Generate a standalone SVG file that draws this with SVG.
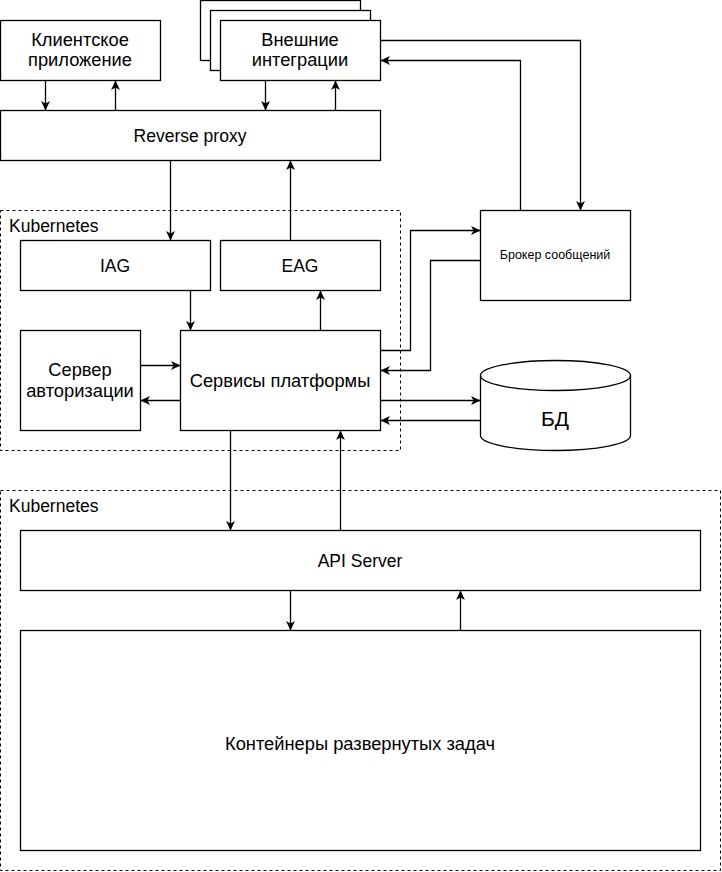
<svg xmlns="http://www.w3.org/2000/svg" width="722" height="872" viewBox="0 0 722 872">
<style>
.box{fill:#fff;stroke:#000;stroke-width:1.3}
.dash{fill:none;stroke:#000;stroke-width:1;stroke-dasharray:3 3}
.t{font-family:"Liberation Sans",Arial,Helvetica,sans-serif;font-size:17.5px;fill:#000;text-anchor:middle}
.ru{font-size:18.3px}
.lbl{font-family:"Liberation Sans",Arial,Helvetica,sans-serif;font-size:17.5px;fill:#000}
.c{fill:none;stroke:#000;stroke-width:1.3;marker-end:url(#arr)}
</style>
<defs>
<marker id="arr" markerUnits="userSpaceOnUse" markerWidth="10" markerHeight="10" viewBox="0 0 9 8" refX="8.5" refY="4" orient="auto">
<path d="M0,0 L8.5,4 L0,8 L2.2,4 z" fill="#000" stroke="none"/>
</marker>
</defs>
<rect width="722" height="872" fill="#fff"/>

<g id="k8s-top">
<rect class="dash" x="0.5" y="210.5" width="400" height="240"/>
<text class="lbl" x="9" y="232">Kubernetes</text>
</g>
<g id="k8s-bottom">
<rect class="dash" x="0.5" y="490.5" width="720" height="380"/>
<text class="lbl" x="9" y="512">Kubernetes</text>
</g>

<g id="client">
<rect class="box" x="0.5" y="20.5" width="160" height="60"/>
<text class="t ru" x="80" y="46">Клиентское</text>
<text class="t ru" x="80" y="66">приложение</text>
</g>

<g id="external">
<rect class="box" x="200.5" y="0.5" width="160" height="60"/>
<rect class="box" x="210.5" y="10.5" width="160" height="60"/>
<rect class="box" x="220.5" y="20.5" width="160" height="60"/>
<text class="t ru" x="300" y="46">Внешние</text>
<text class="t ru" x="300" y="66">интеграции</text>
</g>

<g id="proxy">
<rect class="box" x="0.5" y="110.5" width="380" height="50"/>
<text class="t" x="190" y="142">Reverse proxy</text>
</g>

<g id="iag">
<rect class="box" x="20.5" y="240.5" width="190" height="50"/>
<text class="t" x="115" y="272">IAG</text>
</g>
<g id="eag">
<rect class="box" x="220.5" y="240.5" width="160" height="50"/>
<text class="t" x="300" y="272">EAG</text>
</g>

<g id="auth">
<rect class="box" x="20.5" y="330.5" width="120" height="100"/>
<text class="t ru" x="80" y="376">Сервер</text>
<text class="t ru" x="80" y="397">авторизации</text>
</g>

<g id="services">
<rect class="box" x="180.5" y="330.5" width="200" height="100"/>
<text class="t ru" x="280" y="387">Сервисы платформы</text>
</g>

<g id="broker">
<rect class="box" x="480.5" y="210.5" width="150" height="90"/>
<text class="t" x="555" y="259" style="font-size:12.5px">Брокер сообщений</text>
</g>

<g id="db">
<path class="box" d="M480.5,375.5 L480.5,435.5 A75,15 0 0 0 630.5,435.5 L630.5,375.5 A75,15 0 0 0 480.5,375.5 Z"/>
<path fill="none" stroke="#000" stroke-width="1.3" d="M480.5,375.5 A75,15 0 0 0 630.5,375.5"/>
<text class="t" x="555" y="426" style="font-size:21px">БД</text>
</g>

<g id="api">
<rect class="box" x="20.5" y="530.5" width="680" height="60"/>
<text class="t" x="360" y="567">API Server</text>
</g>

<g id="containers">
<rect class="box" x="20.5" y="630.5" width="680" height="220"/>
<text class="t ru" x="360" y="750">Контейнеры развернутых задач</text>
</g>

<g id="connectors">
<path class="c" d="M45.5,80.5 L45.5,110.5"/>
<path class="c" d="M115.5,110.5 L115.5,80.5"/>
<path class="c" d="M265.5,80.5 L265.5,110.5"/>
<path class="c" d="M335.5,110.5 L335.5,80.5"/>
<path class="c" d="M170.5,160.5 L170.5,240.5"/>
<path class="c" d="M290.5,240.5 L290.5,160.5"/>
<path class="c" d="M190.5,290.5 L190.5,330.5"/>
<path class="c" d="M320.5,330.5 L320.5,290.5"/>
<path class="c" d="M140.5,365.5 L180.5,365.5"/>
<path class="c" d="M180.5,400.5 L140.5,400.5"/>
<path class="c" d="M380.5,40.5 L580.5,40.5 L580.5,210.5"/>
<path class="c" d="M520.5,210.5 L520.5,60.5 L380.5,60.5"/>
<path class="c" d="M380.5,350.5 L410.5,350.5 L410.5,230.5 L480.5,230.5"/>
<path class="c" d="M480.5,260.5 L430.5,260.5 L430.5,370.5 L380.5,370.5"/>
<path class="c" d="M380.5,400.5 L480.5,400.5"/>
<path class="c" d="M480.5,420.5 L380.5,420.5"/>
<path class="c" d="M230.5,430.5 L230.5,530.5"/>
<path class="c" d="M340.5,530.5 L340.5,430.5"/>
<path class="c" d="M290.5,590.5 L290.5,630.5"/>
<path class="c" d="M460.5,630.5 L460.5,590.5"/>
</g>
</svg>
